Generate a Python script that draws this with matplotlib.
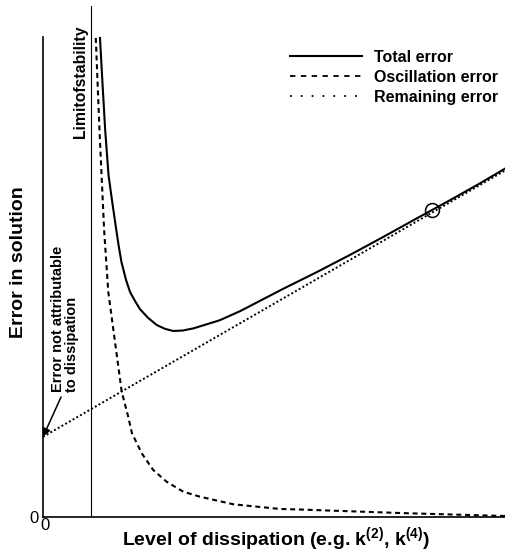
import numpy as np
import matplotlib
matplotlib.use('Agg')
from matplotlib import pyplot as plt
from matplotlib.lines import Line2D
from matplotlib.transforms import ScaledTranslation

plt.rcParams['font.family'] = ['Liberation Sans', 'DejaVu Sans']
plt.rcParams['mathtext.fontset'] = 'custom'
plt.rcParams['mathtext.rm'] = 'Liberation Sans'
plt.rcParams['mathtext.bf'] = 'Liberation Sans:bold'

# curves (x: level of dissipation, y: error), arbitrary units
osc_x = [1.14, 1.22, 1.27, 1.32, 1.41, 1.52, 1.70, 1.84, 1.92, 2.13, 2.38,
         2.67, 3.03, 3.39, 4.11, 5.12, 5.55, 7.71, 10.0]
osc_y = [9.98, 8.06, 7.02, 5.98, 4.69, 3.90, 2.61, 2.09, 1.75, 1.33, 0.98,
         0.735, 0.527, 0.423, 0.265, 0.167, 0.156, 0.083, 0.02]

tot_x = [1.231, 1.287, 1.343, 1.415, 1.490, 1.551, 1.631, 1.695, 1.793,
         1.879, 1.987, 2.095, 2.268, 2.456, 2.635, 2.814, 3.02, 3.25, 3.52,
         3.82, 4.26, 4.68, 5.18, 5.91, 6.63, 7.34, 8.07, 8.79, 9.40, 10.0]
tot_y = [9.98, 9.00, 8.06, 7.125, 6.60, 6.19, 5.67, 5.31, 4.94,
         4.69, 4.50, 4.33, 4.15, 4.00, 3.92, 3.875, 3.885, 3.93, 4.01,
         4.10, 4.29, 4.50, 4.75, 5.10, 5.46, 5.83, 6.22, 6.60, 6.93, 7.27]

rem_x = [0.0, 10.0]
rem_y = [1.67, 7.23]

limit_x = 1.04
mark_x, mark_y = 8.395, 6.40

fig = plt.figure(figsize=(5.06, 5.56), dpi=100)
ax = fig.add_axes([43/506, 39/556, 463/506, 511/556])
ax.set_xlim(0, 10)
ax.set_ylim(0, 511/48)

ax.plot(tot_x, tot_y, color='k', lw=1.5, solid_joinstyle='round')
ax.plot(osc_x, osc_y, color='k', lw=1.5, linestyle=(0, (2.4, 1.8)))
ax.plot(rem_x, rem_y, color='k', lw=1.4, linestyle=(0, (1, 1.2)))
ax.plot([mark_x], [mark_y], marker='o', ms=10, mfc='none', mec='k', mew=1.1)
ax.axvline(limit_x, color='k', lw=0.8)

ax.spines['top'].set_visible(False)
ax.spines['right'].set_visible(False)
ax.spines['left'].set_bounds(0, 10)
ax.spines['left'].set_linewidth(1.2)
ax.spines['bottom'].set_linewidth(1.2)
ax.set_xticks([0])
ax.set_yticks([0])
ax.tick_params(length=0, labelsize=12, pad=1)
ax.tick_params(axis='y', pad=3)
shift = ScaledTranslation(2.5/100, 0, fig.dpi_scale_trans)
for lab in ax.xaxis.get_majorticklabels():
    lab.set_transform(lab.get_transform() + shift)

fig.text(276/506, 1 - 540/556,
         'Level of dissipation (e.g. k$^{\\mathbf{(2)}}$, k$^{\\mathbf{(4)}}$)',
         fontsize=14, fontweight='bold', ha='center', va='center')
fig.text(19/506, 1 - 262/556, 'Error in solution', rotation=90, fontsize=14,
         fontweight='bold', ha='center', va='center')

ax.text(0.81, 10.25, 'Limitofstability', rotation=90, fontsize=11.3,
        fontweight='bold', ha='center', va='top')

ax.text(0.48, 2.6, 'Error not attributable\nto dissipation', rotation=90,
        fontsize=10.5, fontweight='bold', ha='center', va='bottom',
        multialignment='left', linespacing=0.95)
ax.annotate('', xy=(0, rem_y[0]), xytext=(0.39, 2.5),
            arrowprops=dict(arrowstyle='-|>', color='k', lw=1.1,
                            mutation_scale=12, shrinkA=0, shrinkB=0))

handles = [Line2D([], [], color='k', lw=1.5),
           Line2D([], [], color='k', lw=1.3, linestyle=(0, (3, 3))),
           Line2D([], [], color='k', lw=1.3, linestyle=(0, (1, 5)))]
fig.legend(handles, ['Total error', 'Oscillation error', 'Remaining error'],
           loc='upper left', bbox_to_anchor=(290/506, 1 - 50/556),
           frameon=False, borderpad=0, borderaxespad=0, handlelength=4.5,
           handletextpad=0.75, labelspacing=0.3,
           prop={'weight': 'bold', 'size': 11.5})

fig.savefig('out.png', dpi=100)
